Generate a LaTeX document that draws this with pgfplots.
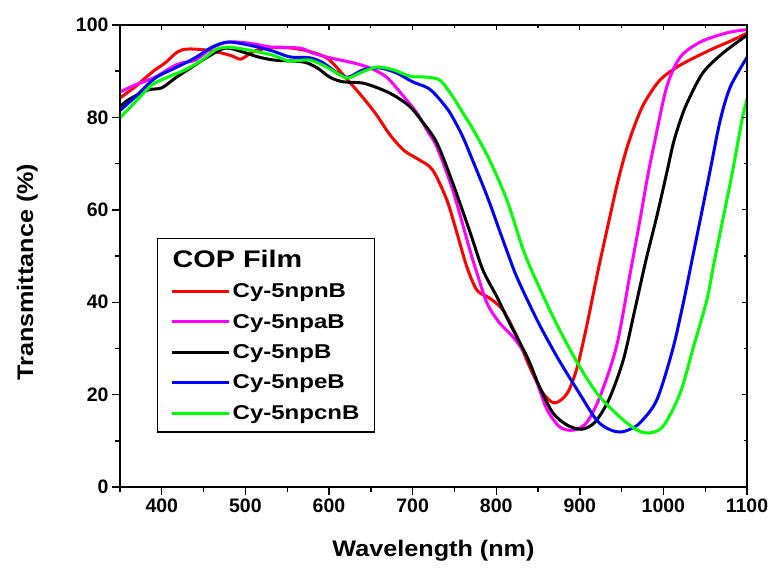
\documentclass[border=0pt]{standalone}
\usepackage{fontspec}
\setmainfont{Liberation Sans}
\newfontfamily\legfont[FakeStretch=1.2]{Liberation Sans}
\newfontfamily\labfont[FakeStretch=1.12]{Liberation Sans}
\usepackage{pgfplots}
\pgfplotsset{compat=1.18}
\definecolor{cred}{RGB}{255,0,0}
\definecolor{cmag}{RGB}{255,0,255}
\definecolor{cblue}{RGB}{0,0,255}
\definecolor{cgreen}{RGB}{0,255,0}
\begin{document}
\begin{tikzpicture}
\useasboundingbox (-120pt,-81pt) rectangle (651pt,487pt);
\begin{axis}[
 at={(0,0)}, anchor=south west, scale only axis, width=627pt, height=462pt,
 xmin=350, xmax=1100, ymin=0, ymax=100,
 xtick={400,500,...,1100}, minor xtick={350,450,...,1050},
 ytick={0,20,...,100}, minor ytick={10,30,...,90},
 xtick pos=left, ytick pos=left, tick align=outside,
 major tick length=8pt, minor tick length=5pt,
 tick style={black, line width=1.4pt},
 axis line style={line width=1.8pt},
 ticklabel style={font=\bfseries\fontsize{19.5}{21}\selectfont},
 /pgf/number format/assume math mode=true,
 /pgf/number format/set thousands separator={},
 xlabel={Wavelength (nm)}, ylabel={Transmittance (\%)},
 label style={font=\labfont\bfseries\fontsize{22.5}{24}\selectfont},
 xlabel style={at={(axis description cs:0.5,-0.139)}, anchor=center},
 ylabel style={at={(axis description cs:-0.148,0.465)}, anchor=center},
 legend style={at={(axis description cs:0.059,0.539)}, anchor=north west,
   draw=black, line width=1.4pt, font=\legfont\bfseries\fontsize{20}{22}\selectfont,
   row sep=11pt, inner xsep=13pt, inner ysep=9pt, cells={anchor=west}},
 legend image code/.code={\draw[#1] (0pt,0pt) -- (57pt,0pt);},
 every axis plot/.append style={line width=3pt, smooth},
]
\addlegendimage{empty legend}
\addlegendentry{\hspace*{-60pt}\fontsize{24}{26}\selectfont COP Film\rule[-7pt]{0pt}{7pt}}
\addplot[cred] coordinates {(350,84.2)(368,86.6)(380,88.5)(392,90.3)(404,91.8)(419,94.2)(431,94.8)(452,94.6)(472,93.9)(484,93.3)(494,92.6)(503,93.5)(515,94.6)(540,95.2)(569,94.6)(597,92.9)(617,89.2)(641,84.2)(657,80.5)(673,76.2)(690,72.8)(708,70.8)(724,68.6)(741,62.1)(753,55)(765,47.6)(777,42.6)(792,40.9)(808,38.3)(825,32.5)(840,26)(856,20.3)(870,18.2)(885,20.3)(897,26)(909,35.5)(922,47)(936,58.5)(946,66.5)(957,73.8)(968,79.4)(978,83.4)(996,88.1)(1020,91.3)(1056,94.6)(1080,96.5)(1100,98.2)};
\addlegendentry{Cy-5npnB}
\addplot[cmag] coordinates {(350,85.5)(368,87)(392,88.7)(412,90.9)(424,91.8)(440,92.4)(460,95)(479,96.3)(503,96.1)(532,95.2)(565,95)(581,93.9)(601,92.9)(629,91.8)(649,90.7)(669,88.7)(688,84.8)(705,81)(718,77)(729,73.6)(748,64.3)(769,51)(777,46.3)(789,39.8)(804,35.5)(820,32.5)(837,28.1)(849,22.5)(861,16.7)(876,13)(892,12.3)(908,13.9)(924,19.5)(944,30.5)(960,46)(972,57.8)(981,67.1)(990,75.1)(1004,86.6)(1020,93)(1044,96.3)(1076,98.3)(1100,99)};
\addlegendentry{Cy-5npaB}
\addplot[black] coordinates {(350,82.3)(360,83.8)(383,85.9)(400,86.4)(416,88.5)(431,90.3)(455,93.1)(476,95)(496,94.2)(515,93.1)(535,92.4)(569,92)(586,90.7)(601,88.7)(617,87.7)(641,87.4)(665,85.9)(681,84.4)(697,82.3)(712,79)(729,74.5)(748,65.8)(769,55)(784,47)(801,41.1)(816,35.5)(837,28.1)(852,21.6)(868,16)(885,13.4)(902,12.5)(918,14)(935,19)(952,27.5)(966,38.5)(979,49)(992,58.5)(1004,68)(1012,74.5)(1020,79.2)(1028,83)(1047,89.6)(1071,93.9)(1100,97.8)};
\addlegendentry{Cy-5npB}
\addplot[cblue] coordinates {(350,81.5)(368,84.4)(392,88.5)(416,90.7)(440,92.9)(460,95.2)(479,96.3)(503,95.7)(532,94.4)(553,93.1)(577,92.9)(593,91.8)(610,89.6)(623,88.7)(641,90.3)(661,90.7)(681,89.6)(700,87.7)(718,86.4)(729,84.6)(744,81.2)(759,76.2)(770,71.5)(789,63)(804,55.5)(813,51)(825,45.3)(849,36.1)(873,28.1)(897,21)(920,14.5)(935,12.5)(948,11.9)(960,12.5)(972,13.9)(992,18.8)(1011,29.7)(1024,40)(1033,48)(1044,57.8)(1056,68.6)(1068,79.4)(1080,86.6)(1100,93)};
\addlegendentry{Cy-5npeB}
\addplot[cgreen] coordinates {(350,79.9)(368,83.3)(388,87)(407,88.7)(428,90.3)(448,92.4)(464,94.6)(479,95.2)(503,94.6)(532,93.5)(553,92.2)(577,92.4)(597,90.9)(613,89.2)(623,88.5)(637,89.6)(657,90.9)(677,90.3)(697,88.9)(717,88.7)(733,88)(748,84.5)(760,81)(772,77.5)(792,70.8)(813,62)(832,51.5)(847,45)(873,35)(900,26)(924,19.5)(956,13.9)(978,11.7)(999,13)(1020,20.3)(1035,29.7)(1052,40.5)(1060,48)(1071,57.8)(1083,68.6)(1094,79.4)(1100,84)};
\addlegendentry{Cy-5npcnB}
\end{axis}
\begin{axis}[
 at={(0,0)}, anchor=south west, scale only axis, width=627pt, height=462pt,
 xmin=350, xmax=1100, ymin=0, ymax=100,
 xtick={400,500,...,1100}, minor xtick={350,450,...,1050},
 ytick={0,20,...,100}, minor ytick={10,30,...,90},
 xtick pos=right, ytick pos=right, tick align=inside,
 major tick length=5pt, minor tick length=3pt,
 tick style={black, line width=1.2pt},
 axis line style={line width=1.8pt},
 xticklabels={}, yticklabels={},
]
\end{axis}
\end{tikzpicture}
\end{document}
